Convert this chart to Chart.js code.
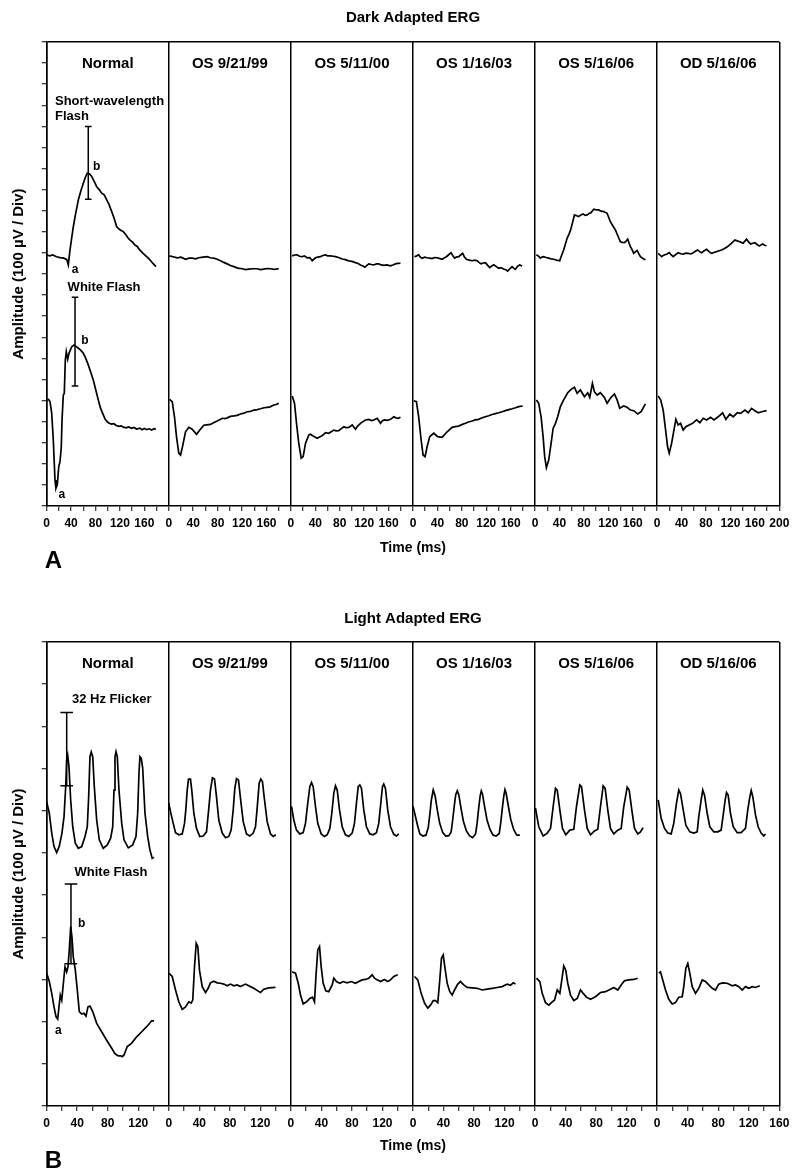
<!DOCTYPE html>
<html>
<head>
<meta charset="utf-8">
<script src="https://cdn.jsdelivr.net/npm/chart.js@4.4.1/dist/chart.umd.min.js"></script>
<style>
html,body{margin:0;padding:0;background:#fff;}
#wrap{position:relative;width:800px;height:1176px;}
canvas{position:absolute;left:0;}
#cA{top:0;}
#cB{top:580px;}
</style>
</head>
<body>
<div id="wrap">
<canvas id="cA" width="800" height="580"></canvas>
<canvas id="cB" width="800" height="596"></canvas>
</div>
<script>
// ---------- categories / labels ----------
const PANELS = ['Normal', 'OS 9/21/99', 'OS 5/11/00', 'OS 1/16/03', 'OS 5/16/06', 'OD 5/16/06'];
const DARK_X_LABELS = [0, 40, 80, 120, 160];
const DARK_X_END = 200;
const LIGHT_X_LABELS = [0, 40, 80, 120];
const LIGHT_X_END = 160;
const DARK_Y_MAX = 2200;
const LIGHT_Y_MAX = 1100;
const Y_STEP = 100;
const X_STEP = 20;

// ---------- Dark adapted: short-wavelength flash (ms, amplitude units) ----------
const aNormSW = [[0,1190],[5,1186],[10,1190],[16,1182],[22,1178],[28,1175],[33,1168],[35.4,1143],[38.2,1214],[41,1272],[43.6,1324],[47,1380],[51.8,1451],[56,1495],[60,1530],[63.5,1560],[66.5,1578],[70,1575],[73.7,1562],[78,1538],[81.9,1514],[86,1500],[90.1,1483],[94,1476],[98.3,1451],[102,1430],[106.5,1396],[110,1368],[114.7,1324],[119,1312],[122,1306],[125.5,1301],[130,1285],[133,1272],[136.5,1261],[141,1250],[145,1236],[148,1232],[152.3,1214],[157,1200],[161,1190],[166.4,1175],[170,1164],[174,1150],[179,1135]];
const aOS1SW = [[1,1186],[7,1182],[13.8,1177],[20,1180],[27.4,1170],[33,1175],[38.3,1175],[44,1172],[49.1,1177],[56,1180],[62.9,1182],[68,1177],[73.7,1175],[79,1170],[84.7,1163],[90,1155],[95.7,1148],[101,1140],[106.5,1135],[113,1128],[120.2,1125],[126,1121],[131,1123],[138,1125],[144.4,1125],[150,1121],[155.6,1123],[161,1126],[166.7,1125],[173,1122],[180.2,1125]];
const aOS2SW = [[2.1,1186],[6,1190],[10.3,1191],[14,1184],[18.5,1182],[22,1186],[26.7,1177],[31,1178],[34.9,1163],[40.3,1177],[44,1180],[48.5,1182],[52,1188],[56.7,1191],[60,1186],[64.9,1186],[69,1184],[73.1,1182],[78,1178],[84,1171],[89,1168],[94.8,1162],[100,1160],[105.8,1154],[110,1150],[114,1143],[118,1138],[121.4,1132],[124,1140],[127.6,1148],[132,1145],[135.8,1143],[140,1148],[144,1148],[148,1143],[152.2,1141],[157,1143],[163.1,1139],[167,1143],[171.3,1148],[175,1150],[179.5,1151]];
const aOS3SW = [[2.3,1182],[6,1186],[9.3,1191],[12,1180],[14.9,1175],[19,1180],[23.1,1177],[27,1175],[31.3,1173],[35,1178],[39.5,1177],[43,1174],[47.7,1170],[51,1176],[54.7,1182],[58,1190],[62.4,1201],[65,1188],[68.3,1175],[71,1180],[74.9,1182],[78,1190],[81.4,1198],[84,1182],[87.5,1170],[92,1166],[96.8,1163],[101,1166],[105,1163],[108,1155],[111.5,1148],[115,1152],[118.6,1154],[122,1142],[125.6,1130],[129,1138],[132.2,1144],[136,1136],[140.4,1127],[144,1130],[148.6,1124],[152,1120],[155.1,1114],[159,1126],[162.3,1135],[165,1128],[167.7,1122],[171,1136],[174.8,1143],[178.7,1138]];
const aOS4SW = [[2.1,1191],[5,1186],[8.7,1175],[11,1180],[14.1,1182],[18,1178],[22.3,1175],[26,1172],[30.5,1170],[35,1166],[40.3,1163],[43,1185],[46.8,1214],[52.4,1269],[55,1285],[58.2,1309],[61,1340],[64.4,1380],[68,1376],[71.4,1372],[75,1380],[78.6,1385],[82,1378],[85.2,1380],[88,1386],[91.7,1391],[94,1400],[96,1407],[100,1404],[104.2,1404],[108,1398],[112.4,1396],[117.9,1388],[123.3,1348],[127,1330],[131.5,1309],[135,1285],[139.7,1253],[143,1250],[146.3,1249],[149,1256],[151.7,1265],[154,1246],[156.1,1230],[159,1214],[161.5,1198],[164,1205],[167.1,1211],[170,1195],[172.5,1182],[176,1175],[180.7,1167]];
const aODSW = [[1.6,1198],[4.5,1190],[7.2,1182],[10,1188],[12.6,1191],[16,1195],[19.7,1201],[23,1190],[26.2,1182],[30,1192],[34.4,1201],[38.5,1196],[42.6,1194],[46.5,1199],[50.8,1198],[55,1195],[59,1201],[62.5,1208],[66.2,1214],[69.5,1206],[72.7,1201],[76.5,1209],[80.9,1217],[85,1206],[89.1,1198],[93,1202],[97.3,1206],[101.5,1210],[105.5,1214],[109.5,1220],[113.7,1227],[117.8,1236],[121.9,1246],[124.5,1254],[127.3,1261],[130.8,1257],[134.3,1254],[137.6,1250],[140.9,1246],[143.6,1256],[146.4,1265],[149.7,1252],[153,1242],[156.5,1246],[160,1249],[163.5,1240],[167.1,1233],[170,1238],[172.7,1242],[176,1236],[179.2,1234]];

// ---------- Dark adapted: white flash ----------
const aNormW = [[0,503],[3,505],[5.4,495],[8.2,440],[10.8,313],[13.6,123],[15.2,84],[17.4,100],[19.7,186],[21.8,210],[23.9,281],[25.1,408],[27.2,526],[28.8,534],[30.5,692],[32.1,732],[34.4,696],[36.5,724],[41,755],[44.7,763],[48,757],[51.8,748],[56,738],[60,724],[64,700],[68.1,669],[72,635],[76.3,597],[80,555],[84.5,503],[88,465],[92.7,432],[96,410],[100.9,395],[106,388],[110,390],[114,382],[118,378],[122,380],[125.5,374],[130,371],[134,375],[139,368],[143,372],[147,365],[152.8,369],[156,362],[160,368],[164,362],[168,366],[172,360],[176,367],[179,364]];
const aOS1W = [[1.1,506],[5.6,495],[9.3,423],[12.6,329],[16.4,250],[19.2,242],[22.4,281],[27.4,352],[32.8,373],[38.3,364],[45.4,340],[50.8,360],[57.3,383],[62,385],[68.3,387],[74,396],[79.3,403],[84,410],[87.5,416],[92,414],[95.7,418],[101,425],[106.5,427],[112,430],[117.4,436],[123,440],[128.4,447],[134,449],[139.2,455],[145,457],[150.2,461],[156,466],[161.1,468],[166,470],[172,479],[176,481],[180.2,487]];
const aOS2W = [[2.1,522],[5.9,487],[9.2,392],[12.9,297],[16.9,227],[20.1,234],[23.9,297],[29.3,337],[32,340],[36.5,332],[43.1,321],[48.5,329],[52,335],[56.7,348],[62.1,345],[66,352],[70.3,360],[74,356],[78.5,357],[82,366],[86.7,376],[90,372],[94.8,373],[100.4,384],[105.8,364],[109,378],[114,392],[118,400],[122.2,408],[127.6,411],[132,405],[135.8,408],[141.4,416],[146.8,392],[150,404],[153.4,408],[158,406],[163.1,411],[168.6,423],[172,418],[175.1,416],[179.5,421]];
const aOS3W = [[1.1,499],[5.6,495],[9.3,423],[13.3,313],[16.5,242],[19.8,234],[23.1,281],[27.4,329],[33.9,345],[40.5,329],[47.7,326],[55.9,352],[64,373],[69,376],[74.9,379],[80,386],[85.8,392],[91,398],[96.8,403],[102,408],[107.6,411],[113,418],[118.6,423],[124,428],[129.6,434],[135,438],[140.4,442],[146,447],[151.3,452],[157,457],[162.3,461],[168,466],[173.1,471],[179.7,474]];
const aOS4W = [[2.1,503],[5.9,487],[9.8,423],[13.1,329],[15.7,234],[18.5,182],[22.3,218],[26.2,297],[29.5,368],[33.3,392],[37,423],[41.4,471],[46.8,503],[53.4,537],[59,553],[64.4,563],[68.8,534],[74.2,550],[80.8,518],[86.2,537],[89.5,515],[93.9,582],[97.1,542],[101.6,526],[107,537],[113.5,515],[117.9,487],[123.3,511],[129.9,531],[134.3,503],[138.6,463],[145.1,474],[150.7,468],[156.1,455],[161.5,452],[168.1,436],[173.6,447],[180.7,484]];
const aODW = [[1.6,522],[5.6,503],[9.8,455],[13.8,360],[17,281],[19.7,250],[23.6,297],[27.4,360],[30.6,411],[34.4,384],[38.3,392],[42.6,360],[47,376],[52.4,384],[58,392],[64.5,408],[69.9,395],[75.4,416],[80.9,408],[87.5,421],[92.9,408],[99.9,423],[107.2,442],[112.5,411],[119.1,436],[124.5,423],[131.1,442],[136.6,439],[143.7,455],[149.1,442],[154.6,463],[160,452],[165.4,442],[171,447],[179.2,452]];

// ---------- Light adapted: 32 Hz flicker ----------
const bNormFlk = [[0,721],[3.4,694],[6.6,647],[9.6,615],[13.1,601],[16.5,616],[20,647],[22.7,686],[24.9,757],[26.2,820],[27.5,832],[29.2,804],[31.4,726],[34.1,662],[37.5,623],[41.4,611],[45.9,615],[50.2,639],[53.2,662],[55,733],[56.7,828],[58.4,839],[60.3,828],[62.4,757],[65.5,678],[68.9,631],[74.1,611],[79.4,619],[83.8,635],[86.5,662],[88.2,749],[89.5,828],[90.8,840],[92.5,828],[94.7,749],[98.3,670],[101.3,631],[106.9,612],[112.7,619],[117,639],[119.2,694],[120.9,789],[122.2,828],[123.9,824],[125.8,801],[128.8,694],[132.3,639],[135.3,607],[138.3,587],[140.6,590]];
const bOS1Flk = [[0,718],[2.2,698],[5.8,670],[8.8,648],[13.1,643],[17.6,645],[20.6,670],[22.3,702],[24.1,749],[25.8,775],[28.4,775],[30.1,749],[32.8,694],[36.3,658],[40.6,639],[45.1,640],[49.4,650],[52,698],[54.6,749],[57.2,778],[59.9,775],[62.5,733],[65.5,678],[70,647],[74.3,636],[78.6,639],[81.7,654],[84.4,702],[86.5,753],[88.7,776],[91.3,773],[93.9,730],[97.5,674],[101.8,645],[106.1,640],[110.6,647],[113.6,662],[115.8,706],[118.4,765],[120.5,775],[122.7,769],[125.4,726],[128.9,674],[133.3,645],[136.8,639],[140.2,643]];
const bOS2Flk = [[0.8,710],[3.8,678],[7.3,654],[11.7,645],[16.1,648],[19.1,670],[22.1,718],[24.8,757],[27,767],[29.2,757],[32.2,710],[35.2,670],[39.7,645],[44,639],[47.6,643],[51,658],[53.6,694],[56.2,741],[58.4,759],[60.7,749],[63.7,702],[67.2,662],[71.5,643],[75.8,639],[80.3,647],[83.3,670],[85.9,718],[88.2,757],[90.3,761],[92.5,753],[95.5,702],[99,662],[103.4,645],[107.8,643],[112.1,648],[115.1,670],[117.8,718],[120,757],[121.7,763],[123.9,753],[126.9,702],[130.5,662],[134.8,644],[138.4,640],[141.3,645]];
const bOS3Flk = [[0,711],[3,688],[6,665],[9,645],[13,640],[17,642],[20,660],[22,690],[24,725],[26.5,749],[29,735],[32,700],[35,670],[39,648],[43,640],[47,641],[50,650],[52,678],[54,710],[56,738],[58,747],[60,738],[63,705],[66,675],[70,652],[74,641],[78,636],[82,645],[84,670],[86,705],[88,735],[89.5,747],[91,740],[94,708],[97,678],[101,655],[105,642],[109,640],[113,646],[115,672],[117,705],[119,735],[120.5,750],[122,742],[125,710],[128,680],[132,655],[136,642],[140,642]];
const bOS4Flk = [[0.5,706],[4.8,662],[10.6,640],[15.9,647],[20.2,658],[23.7,710],[26.7,753],[29,749],[32.4,702],[35.9,658],[40.2,643],[45.5,654],[50.7,656],[54.2,710],[58.6,761],[60.8,757],[64.7,702],[68.3,658],[72.6,643],[77.8,652],[82.1,656],[85.7,710],[89.2,759],[91.8,753],[95.2,702],[98.8,658],[103.1,645],[108.3,654],[112.8,658],[116.2,710],[120.7,756],[123.3,749],[126.7,702],[130.3,658],[134.5,645],[138.1,650],[141.6,660]];
const bODFlk = [[1.3,726],[5.2,682],[9.6,658],[13.9,647],[18.3,645],[21.7,670],[25.3,718],[28.3,749],[30.5,741],[34.1,702],[37.5,666],[42.7,650],[47.9,647],[52.4,650],[54.5,686],[57.6,726],[59.7,749],[62,737],[65.5,694],[68.9,662],[74.1,650],[79.4,650],[83.8,654],[86.5,690],[89.1,726],[90.8,743],[93,737],[96,694],[99.6,662],[104.8,648],[110,648],[115.7,658],[118.7,702],[121.4,733],[123.2,748],[125.3,733],[128.8,690],[132.3,662],[136.2,647],[139.6,640],[141.9,645]];

// ---------- Light adapted: white flash ----------
const bNormW = [[0,315],[3.4,295],[6.6,267],[9.6,235],[12.2,212],[14.4,206],[16.1,235],[17.8,263],[19.7,251],[21,275],[22.7,307],[24,330],[26.2,318],[27.9,330],[29.6,370],[31.4,425],[33.1,401],[34.8,354],[37.5,322],[40.1,275],[42.7,224],[45.9,218],[48.9,220],[51.5,213],[54.1,235],[56.7,237],[60.3,224],[65.5,196],[72,176],[78.6,156],[85.2,137],[89,125],[91.7,121],[94,119],[96.9,119],[99,117],[101.3,121],[105.6,141],[111.4,149],[117.9,164],[124.5,176],[131,188],[137.6,202],[140.6,202]];
const bOS1W = [[0,315],[4.5,307],[8.8,275],[13.1,247],[17.6,229],[21.9,235],[26.2,247],[29.3,244],[31.4,251],[33.7,330],[35.9,386],[38,378],[40.2,322],[43.8,283],[48.1,269],[51.6,279],[54.6,292],[59,296],[63.4,292],[67.7,291],[72.1,289],[76.5,285],[80.8,289],[85.2,285],[89.6,287],[93.9,283],[100.5,289],[107,283],[111.4,279],[116.6,273],[120.1,269],[124.5,277],[131,280],[139.8,281]];
const bOS2W = [[1.7,318],[6,315],[9.6,291],[12.6,263],[16.1,242],[20.4,247],[24.8,255],[28.3,258],[30.9,247],[33.1,315],[35.2,370],[37.5,378],[39.7,330],[42.3,291],[45.7,273],[49.6,271],[54.1,287],[56.2,303],[59.7,295],[64.1,291],[68.5,295],[73.8,292],[79,295],[84.6,291],[89,295],[93.4,299],[97.7,300],[102.1,303],[106.5,311],[109.5,303],[113.1,299],[117.4,295],[122.6,300],[126.9,295],[130.5,299],[134.8,307],[140,311]];
const bOS3W = [[2,307],[6.3,299],[10.7,267],[15.1,244],[19.4,232],[22.9,239],[26.5,250],[29.5,250],[32.5,245],[35.1,299],[37.3,350],[39.6,358],[41.7,330],[44.8,291],[48.2,271],[51.4,263],[54.4,275],[58.7,289],[62.2,295],[66.5,287],[71,281],[77.6,280],[84.1,279],[90.7,275],[97.2,277],[103.8,279],[110.3,281],[116.9,283],[123.4,289],[127.7,286],[131.3,292],[134.3,289]];
const bOS4W = [[1.8,303],[6.2,295],[9.3,267],[13.6,245],[17.9,239],[22.4,247],[25.4,251],[29,275],[32.4,267],[35,299],[37.6,332],[40.2,322],[42.8,291],[46.4,263],[50.7,250],[55.2,255],[59.5,275],[63,267],[67.3,258],[72.6,253],[79.1,259],[85.7,269],[92.2,271],[98.8,277],[103.1,281],[108.3,275],[112.8,287],[117.1,297],[122.7,299],[129.3,300],[134.5,303]];
const bODW = [[2.1,315],[4.3,318],[6.6,303],[10.9,275],[15.2,253],[19.7,242],[24,245],[28.3,258],[32.8,259],[34.8,283],[37.5,326],[40.1,338],[42.7,315],[45.9,283],[50.2,267],[54.5,279],[59,299],[63.3,295],[67.6,287],[72.1,279],[76.4,275],[80.7,289],[85.2,292],[91.7,291],[98.3,285],[102.6,287],[106.9,283],[111.4,275],[115.7,283],[120.1,279],[124.5,283],[128.8,281],[134.4,285]];

// ---------- normal-range error bars: [time, low, high] ----------
const aErrBars = [[68.1,1454,1799],[46.4,569,990]];
const bErrBars = [[26.2,759,933],[31.8,337,526]];

const darkShort = [aNormSW, aOS1SW, aOS2SW, aOS3SW, aOS4SW, aODSW];
const darkWhite = [aNormW, aOS1W, aOS2W, aOS3W, aOS4W, aODW];
const lightFlicker = [bNormFlk, bOS1Flk, bOS2Flk, bOS3Flk, bOS4Flk, bODFlk];
const lightWhite = [bNormW, bOS1W, bOS2W, bOS3W, bOS4W, bODW];

// ---------- rendering ----------
const FONT = '"Liberation Sans", Arial, Helvetica, sans-serif';
Chart.defaults.font.family = FONT;
Chart.defaults.color = '#000';

function traceSets(groups, span) {
  const out = [];
  groups.forEach(group => group.forEach((trace, k) => {
    out.push({
      data: trace.map(([t, v]) => ({x: k * span + t, y: v})),
      borderColor: '#000', borderWidth: 1.7, pointRadius: 0, fill: false, tension: 0
    });
  }));
  return out;
}

const overlay = {
  id: 'overlay',
  afterDatasetsDraw(chart, args, o) {
    const {ctx, chartArea} = chart;
    const xs = chart.scales.x, ys = chart.scales.y;
    ctx.save();
    ctx.fillStyle = '#000';
    ctx.strokeStyle = '#000';
    ctx.font = 'bold 15px ' + FONT;
    ctx.textAlign = 'center';
    ctx.textBaseline = 'middle';
    o.panels.forEach((t, k) => {
      ctx.fillText(t, xs.getPixelForValue(k * o.span + o.span / 2), chartArea.top + o.titleOffset);
    });
    o.notes.forEach(n => {
      ctx.font = 'bold ' + n.size + 'px ' + FONT;
      ctx.textAlign = n.align || 'center';
      ctx.fillText(n.text, xs.getPixelForValue(n.x), ys.getPixelForValue(n.y));
    });
    ctx.lineWidth = 1.5;
    o.bars.forEach(([t, lo, hi]) => {
      const x = xs.getPixelForValue(t), y1 = ys.getPixelForValue(lo), y2 = ys.getPixelForValue(hi);
      ctx.beginPath();
      ctx.moveTo(x, y1); ctx.lineTo(x, y2);
      ctx.moveTo(x - o.cap, y1); ctx.lineTo(x + o.cap, y1);
      ctx.moveTo(x - o.cap, y2); ctx.lineTo(x + o.cap, y2);
      ctx.stroke();
    });
    ctx.font = 'bold 24px ' + FONT;
    ctx.textAlign = 'left';
    ctx.textBaseline = 'alphabetic';
    ctx.fillText(o.letter, chartArea.left - 2, chartArea.bottom + 62);
    ctx.restore();
  }
};

function build(id, c) {
  const xMax = c.span * PANELS.length;
  new Chart(document.getElementById(id), {
    type: 'line',
    data: {datasets: traceSets(c.groups, c.span)},
    plugins: [overlay],
    options: {
      responsive: false, animation: false, devicePixelRatio: 1,
      layout: {padding: {left: 0, right: 20.7, top: 0, bottom: 0}},
      plugins: {
        legend: {display: false},
        tooltip: {enabled: false},
        title: {display: true, text: c.title, fullSize: false, color: '#000',
          font: {size: 15, weight: 'bold'}, padding: {top: c.titleTop, bottom: c.titleBottom}},
        overlay: {panels: PANELS, span: c.span, titleOffset: 22, notes: c.notes, bars: c.bars, cap: c.cap, letter: c.letter}
      },
      scales: {
        x: {
          type: 'linear', min: 0, max: xMax,
          afterFit(s) { s.height = c.xAxisH; },
          ticks: {
            stepSize: X_STEP, autoSkip: false, maxRotation: 0, minRotation: 0, padding: 5,
            color: '#000', font: {size: 12, weight: 'bold'},
            callback(value) {
              const v = Math.round(value);
              if (v === xMax) return String(c.endLabel);
              const local = v % c.span;
              return c.labels.includes(local) ? String(local) : '';
            }
          },
          grid: {
            color: g => (g.tick && Math.round(g.tick.value) % c.span === 0) ? '#000' : 'rgba(0,0,0,0)',
            lineWidth: 1.5, tickColor: '#000', tickWidth: 1, tickLength: 5, drawTicks: true
          },
          border: {display: true, color: '#000', width: 1.5},
          title: {display: true, text: 'Time (ms)', color: '#000', font: {size: 14, weight: 'bold'},
            padding: {top: 0, bottom: c.xTitleBottom}}
        },
        y: {
          min: 0, max: c.yMax,
          afterFit(s) { s.width = 46.7; },
          ticks: {stepSize: Y_STEP, autoSkip: false, callback: () => ''},
          grid: {
            color: g => (g.tick && g.tick.value === c.yMax) ? '#000' : 'rgba(0,0,0,0)',
            lineWidth: 1.5, tickColor: '#000', tickWidth: 1, tickLength: 5
          },
          border: {display: true, color: '#000', width: 1.5},
          title: {display: true, text: 'Amplitude (100 µV / Div)', color: '#000',
            font: {size: 15, weight: 'bold'}, padding: {top: 10, bottom: 0}}
        }
      }
    }
  });
}

build('cA', {
  title: 'Dark Adapted ERG', titleTop: 9, titleBottom: 15,
  span: DARK_X_END, labels: DARK_X_LABELS, endLabel: DARK_X_END, yMax: DARK_Y_MAX,
  xAxisH: 74, xTitleBottom: 23,
  groups: [darkShort, darkWhite], bars: aErrBars, cap: 3.3, letter: 'A',
  notes: [
    {text: 'Short-wavelength', x: 13.6, y: 1920, size: 13, align: 'left'},
    {text: 'Flash', x: 13.6, y: 1846, size: 13, align: 'left'},
    {text: 'b', x: 81.9, y: 1609, size: 12},
    {text: 'a', x: 46.4, y: 1122, size: 12},
    {text: 'White Flash', x: 94, y: 1037, size: 13},
    {text: 'b', x: 62.7, y: 784, size: 12},
    {text: 'a', x: 24.6, y: 52, size: 12}
  ]
});

build('cB', {
  title: 'Light Adapted ERG', titleTop: 30, titleBottom: 14,
  span: LIGHT_X_END, labels: LIGHT_X_LABELS, endLabel: LIGHT_X_END, yMax: LIGHT_Y_MAX,
  xAxisH: 70, xTitleBottom: 21,
  groups: [lightFlicker, lightWhite], bars: bErrBars, cap: 6.3, letter: 'B',
  notes: [
    {text: '32 Hz Flicker', x: 33.1, y: 963, size: 13, align: 'left'},
    {text: 'White Flash', x: 84.2, y: 553, size: 13},
    {text: 'b', x: 45.9, y: 433, size: 12},
    {text: 'a', x: 15.2, y: 179, size: 12}
  ]
});
</script>
</body>
</html>
